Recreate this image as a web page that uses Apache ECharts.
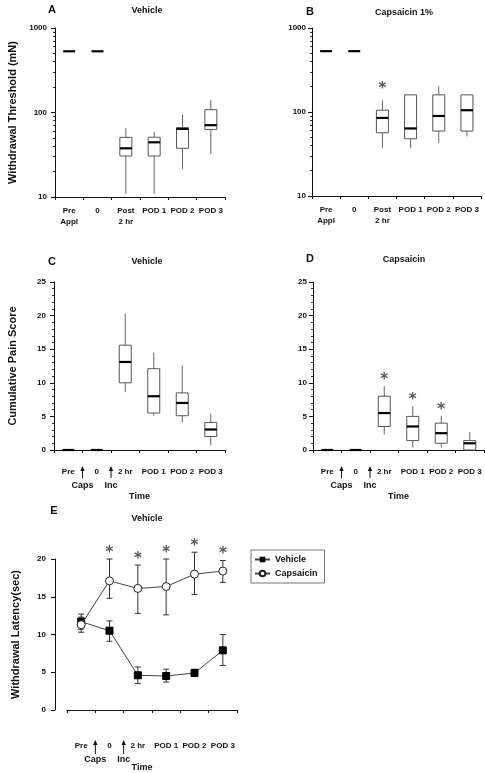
<!DOCTYPE html>
<html><head><meta charset="utf-8">
<script src="https://cdn.jsdelivr.net/npm/echarts@6/dist/echarts.min.js"></script>
<style>html,body{margin:0;padding:0;background:#fff}#c{width:485px;height:773px}</style>
</head><body><div id="c"></div>
<script>
// ---------- DATA ----------
const catsAB = ['Pre\nAppl', '0', 'Post\n2 hr', 'POD 1', 'POD 2', 'POD 3'];
const catsCDE = ['Pre', '0', '2 hr', 'POD 1', 'POD 2', 'POD 3'];
// box stats per category: [whiskerLow, q1, median, q3, whiskerHigh]
const boxA = [
  [530, 530, 530, 530, 530],
  [530, 530, 530, 530, 530],
  [10.9, 30.6, 37.7, 50.8, 65],
  [10.9, 30.6, 44.4, 51, 59],
  [21.5, 37.7, 64, 66, 94.7],
  [32.4, 63, 70.8, 108, 140]
];
const boxB = [
  [530, 530, 530, 530, 530],
  [530, 530, 530, 530, 530],
  [37.4, 56.6, 85, 105, 138],
  [37.4, 48, 63.7, 160, 160],
  [42.8, 59.3, 89.7, 160, 202],
  [51.3, 59.3, 105, 160, 160]
];
const starB = [0, 0, 1, 0, 0, 0];
const boxC = [
  [0, 0, 0, 0, 0],
  [0, 0, 0, 0, 0],
  [8.6, 10, 13.1, 15.6, 20.3],
  [5.1, 5.5, 8.0, 12.1, 14.5],
  [4.1, 5.1, 7.0, 8.5, 12.6],
  [0.7, 2.0, 3.05, 4.1, 5.4]
];
const boxD = [
  [0, 0, 0, 0, 0],
  [0, 0, 0, 0, 0],
  [2.3, 3.5, 5.5, 8.0, 9.5],
  [0.35, 1.4, 3.5, 5.0, 6.5],
  [0.35, 1.0, 2.5, 4.0, 5.1],
  [0, 0, 1.0, 1.4, 2.7]
];
const starD = [0, 0, 1, 1, 1, 0];
const vehMean = [11.7, 10.5, 4.6, 4.5, 4.9, 7.9];
const vehLow  = [10.7, 9.1, 3.5, 3.7, 4.5, 5.9];
const vehHigh = [12.7, 11.8, 5.7, 5.4, 5.4, 10.0];
const capMean = [11.3, 17.1, 16.1, 16.35, 18.0, 18.4];
const capLow  = [10.3, 14.8, 12.8, 12.6, 15.3, 16.9];
const capHigh = [12.3, 20.0, 19.2, 20.0, 20.9, 19.8];
const starE = [0, 1, 1, 1, 1, 1];
const ticksLog = [10, 100, 1000];

// ---------- CHART ----------
const FONT = '"Liberation Sans", Arial, sans-serif';
const chart = echarts.init(document.getElementById('c'), null, {renderer: 'canvas'});

function boxData(arr) { return arr.map((b, i) => [i].concat(b)); }
function starData(box, flags) { return box.map((b, i) => [i, b[4]]).filter((d, i) => flags[i]); }

function renderBox(params, api) {
  const x = api.value(0);
  const lo = api.coord([x, api.value(1)]);
  const q1 = api.coord([x, api.value(2)]);
  const md = api.coord([x, api.value(3)]);
  const q3 = api.coord([x, api.value(4)]);
  const hi = api.coord([x, api.value(5)]);
  const w = 12, cx = md[0];
  const st = {stroke: '#666', lineWidth: 1};
  const ch = [];
  if (hi[1] < q3[1]) ch.push({type: 'line', shape: {x1: cx, y1: hi[1], x2: cx, y2: q3[1]}, style: st});
  if (lo[1] > q1[1]) ch.push({type: 'line', shape: {x1: cx, y1: q1[1], x2: cx, y2: lo[1]}, style: st});
  if (q1[1] - q3[1] > 0.5) ch.push({type: 'rect', shape: {x: cx - w / 2, y: q3[1], width: w, height: q1[1] - q3[1]}, style: {fill: '#fff', stroke: '#555', lineWidth: 1}});
  ch.push({type: 'line', shape: {x1: cx - w / 2, y1: md[1], x2: cx + w / 2, y2: md[1]}, style: {stroke: '#000', lineWidth: 2.2}});
  return {type: 'group', children: ch};
}
function makeStar(off) {
  return function (params, api) {
    const p = api.coord([api.value(0), api.value(1)]);
    return {type: 'text', x: p[0], y: p[1] - off, style: {text: '*', font: 'bold 15px "DejaVu Sans"', fill: '#555', align: 'center', verticalAlign: 'middle'}};
  };
}
function renderErr(params, api) {
  const x = api.value(0);
  const lo = api.coord([x, api.value(1)]);
  const hi = api.coord([x, api.value(2)]);
  const c = 3, st = {stroke: '#333', lineWidth: 1};
  return {type: 'group', children: [
    {type: 'line', shape: {x1: lo[0], y1: lo[1], x2: hi[0], y2: hi[1]}, style: st},
    {type: 'line', shape: {x1: hi[0] - c, y1: hi[1], x2: hi[0] + c, y2: hi[1]}, style: st},
    {type: 'line', shape: {x1: lo[0] - c, y1: lo[1], x2: lo[0] + c, y2: lo[1]}, style: st}
  ]};
}

const axLine = {lineStyle: {color: '#111', width: 1}};
const lblStyle = {fontFamily: FONT, fontSize: 8, fontWeight: 'bold', color: '#111'};
function xAx(grid, cats, margin, extra) {
  return Object.assign({
    gridIndex: grid, type: 'category', data: cats, boundaryGap: true,
    axisLine: axLine, axisTick: {show: true, length: 3, lineStyle: {color: '#111'}},
    axisLabel: Object.assign({margin: margin, interval: 0, lineHeight: 11}, lblStyle),
    splitLine: {show: false}
  }, extra || {});
}
const yNameStyle = {fontFamily: FONT, fontSize: 11, fontWeight: 'bold', color: '#111'};
const timeName = {name: 'Time', nameLocation: 'middle', nameTextStyle: {fontFamily: FONT, fontSize: 9, fontWeight: 'bold', color: '#111'}};
const logLabel = Object.assign({formatter: v => String(v)}, lblStyle);
const logMinor = {show: true, splitNumber: 9, length: 2, lineStyle: {color: '#333'}};

const option = {
  backgroundColor: '#fff',
  animation: false,
  grid: [
    {left: 55, top: 28, width: 170, height: 169},
    {left: 312, top: 28, width: 169, height: 168},
    {left: 54, top: 282, width: 171, height: 168},
    {left: 313, top: 282, width: 171, height: 168},
    {left: 67, top: 559, width: 170, height: 152}
  ],
  xAxis: [
    xAx(0, catsAB, 8),
    xAx(1, catsAB, 8),
    xAx(2, catsCDE, 16, Object.assign({nameGap: 42}, timeName)),
    xAx(3, catsCDE, 16, Object.assign({nameGap: 42}, timeName)),
    xAx(4, catsCDE, 14, Object.assign({nameGap: 37, offset: 16}, timeName, {nameTextStyle: Object.assign({}, timeName.nameTextStyle, {padding: [0, 20, 0, 0]})}))
  ],
  yAxis: [
    {gridIndex: 0, type: 'log', logBase: 10, min: ticksLog[0], max: ticksLog[2],
     name: 'Withdrawal Threshold (mN)', nameLocation: 'middle', nameGap: 37, nameTextStyle: yNameStyle,
     axisLine: Object.assign({show: true}, axLine), axisTick: {show: true, length: 4, lineStyle: {color: '#111'}},
     minorTick: logMinor,
     axisLabel: Object.assign({margin: 8}, logLabel), splitLine: {show: false}},
    {gridIndex: 1, type: 'log', logBase: 10, min: ticksLog[0], max: ticksLog[2],
     axisLine: Object.assign({show: true}, axLine), axisTick: {show: true, length: 4, lineStyle: {color: '#111'}},
     minorTick: logMinor,
     axisLabel: Object.assign({margin: 6}, logLabel), splitLine: {show: false}},
    {gridIndex: 2, type: 'value', min: 0, max: 25, interval: 5,
     name: 'Cumulative Pain Score', nameLocation: 'middle', nameGap: 36, nameTextStyle: yNameStyle,
     axisLine: Object.assign({show: true}, axLine), axisTick: {show: true, length: 4, lineStyle: {color: '#111'}},
     minorTick: {show: true, splitNumber: 5, length: 2, lineStyle: {color: '#333'}},
     axisLabel: Object.assign({margin: 8}, lblStyle), splitLine: {show: false}},
    {gridIndex: 3, type: 'value', min: 0, max: 25, interval: 5,
     axisLine: Object.assign({show: true}, axLine), axisTick: {show: true, length: 4, lineStyle: {color: '#111'}},
     minorTick: {show: true, splitNumber: 5, length: 2, lineStyle: {color: '#333'}},
     axisLabel: Object.assign({margin: 6}, lblStyle), splitLine: {show: false}},
    {gridIndex: 4, type: 'value', min: 0, max: 20, interval: 5, offset: 12,
     name: 'Withdrawal Latency(sec)', nameLocation: 'middle', nameGap: 34, nameTextStyle: yNameStyle,
     axisLine: Object.assign({show: true}, axLine), axisTick: {show: true, length: 4, lineStyle: {color: '#111'}},
     axisLabel: Object.assign({margin: 9}, lblStyle), splitLine: {show: false}}
  ],
  legend: {
    data: ['Vehicle', 'Capsaicin'], orient: 'vertical', left: 251, top: 550,
    borderColor: '#777', borderWidth: 1, padding: [5, 7, 5, 3], itemGap: 5,
    itemWidth: 15, itemHeight: 7,
    textStyle: {fontFamily: FONT, fontSize: 9, fontWeight: 'bold', color: '#111'}
  },
  series: [
    {type: 'custom', xAxisIndex: 0, yAxisIndex: 0, renderItem: renderBox, data: boxData(boxA), encode: {x: 0, y: [1, 2, 3, 4, 5]}},
    {type: 'custom', xAxisIndex: 1, yAxisIndex: 1, renderItem: renderBox, data: boxData(boxB), encode: {x: 0, y: [1, 2, 3, 4, 5]}},
    {type: 'custom', xAxisIndex: 1, yAxisIndex: 1, renderItem: makeStar(11), data: starData(boxB, starB), encode: {x: 0, y: 1}},
    {type: 'custom', xAxisIndex: 2, yAxisIndex: 2, renderItem: renderBox, data: boxData(boxC), encode: {x: 0, y: [1, 2, 3, 4, 5]}},
    {type: 'custom', xAxisIndex: 3, yAxisIndex: 3, renderItem: renderBox, data: boxData(boxD), encode: {x: 0, y: [1, 2, 3, 4, 5]}},
    {type: 'custom', xAxisIndex: 3, yAxisIndex: 3, renderItem: makeStar(6), data: starData(boxD, starD), encode: {x: 0, y: 1}},
    {type: 'custom', xAxisIndex: 4, yAxisIndex: 4, renderItem: renderErr, data: vehMean.map((v, i) => [i, vehLow[i], vehHigh[i]]), encode: {x: 0, y: [1, 2]}},
    {type: 'custom', xAxisIndex: 4, yAxisIndex: 4, renderItem: renderErr, data: capMean.map((v, i) => [i, capLow[i], capHigh[i]]), encode: {x: 0, y: [1, 2]}},
    {type: 'custom', xAxisIndex: 4, yAxisIndex: 4, renderItem: makeStar(6), data: capHigh.map((v, i) => [i, v]).filter((d, i) => starE[i]), encode: {x: 0, y: 1}},
    {name: 'Vehicle', type: 'line', xAxisIndex: 4, yAxisIndex: 4, data: vehMean, symbol: 'rect', symbolSize: 7,
     lineStyle: {color: '#444', width: 1}, itemStyle: {color: '#000', borderColor: '#000'}, z: 3},
    {name: 'Capsaicin', type: 'line', xAxisIndex: 4, yAxisIndex: 4, data: capMean, symbol: 'circle', symbolSize: 8,
     lineStyle: {color: '#444', width: 1}, itemStyle: {color: '#fff', borderColor: '#222', borderWidth: 1}, z: 4}
  ]
};
chart.setOption(option);

// ---------- annotations (titles, arrows) ----------
function tx(text, x, y, size, extra) {
  return {type: 'text', x: x, y: y, style: Object.assign({text: text, font: 'bold ' + size + 'px ' + FONT, fill: '#111', align: 'center', verticalAlign: 'middle'}, extra || {})};
}
const g = [
  tx('A', 52, 10, 11), tx('Vehicle', 147, 11, 9),
  tx('B', 310, 12, 11), tx('Capsaicin 1%', 404, 13, 9),
  tx('C', 52, 262, 11), tx('Vehicle', 147, 262, 9),
  tx('D', 310, 259, 11), tx('Capsaicin', 404, 260, 9),
  tx('E', 54, 511, 11), tx('Vehicle', 147, 519, 9)
];
function arrowSet(axisIdx, yAxisIdx, tip, base, txtY) {
  const axisY = chart.convertToPixel({yAxisIndex: yAxisIdx}, 0);
  const c0 = chart.convertToPixel({xAxisIndex: axisIdx}, 0);
  const c1 = chart.convertToPixel({xAxisIndex: axisIdx}, 1);
  const c2 = chart.convertToPixel({xAxisIndex: axisIdx}, 2);
  const xs = [(c0 + c1) / 2, (c1 + c2) / 2];
  const labels = ['Caps', 'Inc'];
  xs.forEach((x, k) => {
    g.push({type: 'line', shape: {x1: x, y1: axisY + tip + 3, x2: x, y2: axisY + base}, style: {stroke: '#111', lineWidth: 1}});
    g.push({type: 'polygon', shape: {points: [[x, axisY + tip], [x - 2.2, axisY + tip + 5], [x + 2.2, axisY + tip + 5]]}, style: {fill: '#111'}});
    g.push(tx(labels[k], x, axisY + txtY, 9));
  });
}
arrowSet(2, 2, 16, 28, 36);
arrowSet(3, 3, 16, 28, 36);
arrowSet(4, 4, 30, 44, 50);
chart.setOption({graphic: g});
</script></body></html>
